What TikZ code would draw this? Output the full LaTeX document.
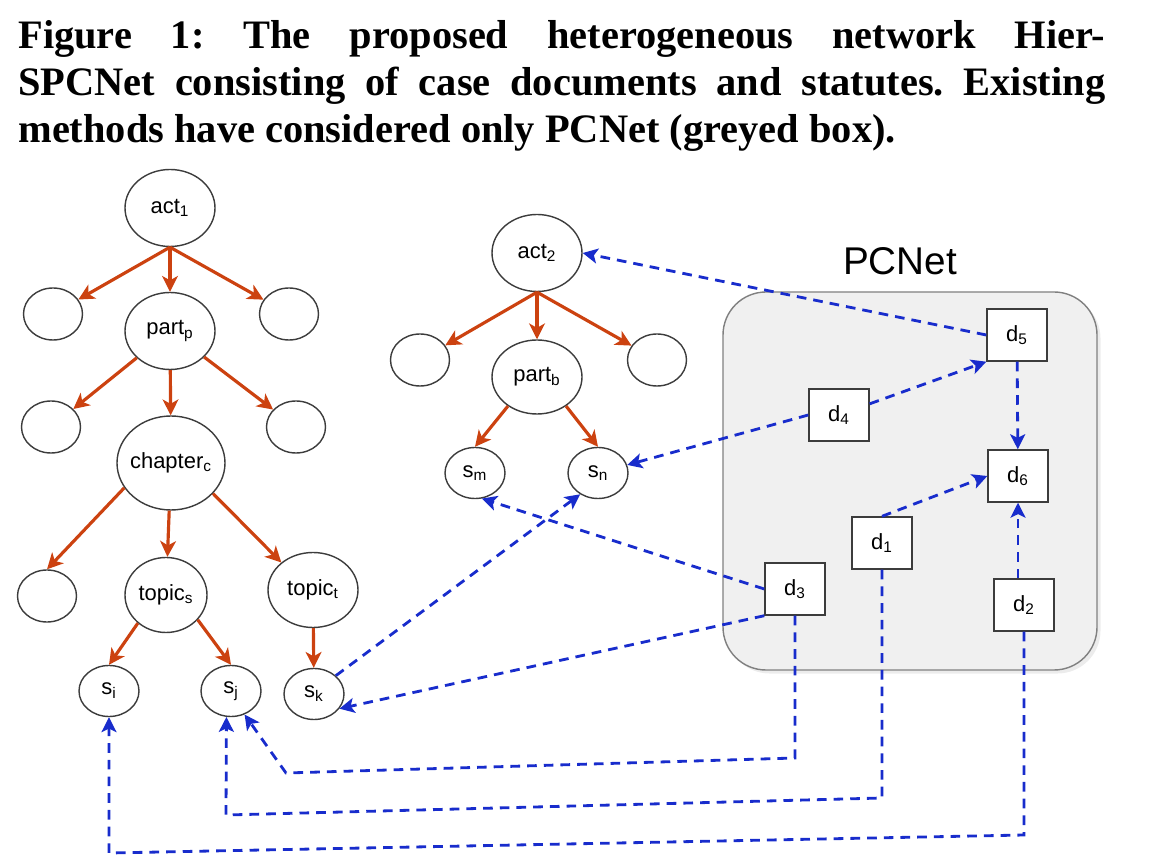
\documentclass[tikz,border=0pt]{standalone}
\usepackage{fontspec}
\setmainfont{Liberation Serif}
\setsansfont{Liberation Sans}
\usepackage{tikz}
\usetikzlibrary{shapes.geometric, arrows.meta, positioning, calc, shadows}
\definecolor{treeorange}{RGB}{204, 66, 16}
\definecolor{citeblue}{RGB}{24, 44, 204}
\definecolor{netgrey}{RGB}{240, 240, 240}
\definecolor{rimgrey}{RGB}{60, 60, 60}
\frenchspacing

\begin{document}
\begin{tikzpicture}[
    stat/.style={ellipse, draw=rimgrey, line width=0.8pt, fill=white,
        inner sep=0pt, font=\sffamily\fontsize{12.5}{14}\selectfont},
    big/.style={stat, minimum width=1.8cm, minimum height=1.54cm},
    blank/.style={stat, minimum width=1.18cm, minimum height=1.04cm},
    leaf/.style={stat, minimum width=1.2cm, minimum height=1.02cm},
    doc/.style={rectangle, draw=rimgrey, line width=0.8pt, fill=white,
        minimum width=1.2cm, minimum height=1.04cm,
        font=\sffamily\fontsize{12.5}{14}\selectfont},
    treearrow/.style={treeorange, line width=1.8pt,
        -{Stealth[length=9pt, width=9pt, inset=2.5pt]}},
    citearrow/.style={citeblue, line width=1.6pt, dash pattern=on 5.5pt off 4pt,
        -{Stealth[length=8.5pt, width=8.5pt, inset=2pt]}}
]
    \useasboundingbox (0,0) rectangle (23.3,17.32);

    % Caption
    \node[anchor=north west, inner sep=0pt, text width=21.74cm, align=justify,
          font=\fontsize{23}{26.8}\selectfont\bfseries] (caption) at (0.36,16.92)
        {Figure 1: The proposed heterogeneous network Hier-\linebreak
         SPCNet consisting of case documents and statutes. Existing\linebreak
         methods have considered only PCNet (greyed box).};

    % Greyed box
    \node[rectangle, draw=gray, line width=0.8pt, fill=netgrey,
          rounded corners=0.86cm, minimum width=7.48cm, minimum height=7.56cm,
          drop shadow={opacity=0.15, shadow xshift=2pt, shadow yshift=-2pt}]
        (pcbox) at (18.2,7.70) {};
    \node[anchor=base, font=\sffamily\fontsize{22}{24}\selectfont]
        (pclabel) at (18.0,11.82) {PCNet};

    % Statute hierarchy of act 1
    \node[big] (act1) at (3.40,13.16) {act\textsubscript{1}};
    \node[blank] (a1l) at (1.06,11.04) {};
    \node[big] (partp) at (3.40,10.70) {part\textsubscript{p}};
    \node[blank] (a1r) at (5.78,11.04) {};
    \node[blank] (p1l) at (1.02,8.78) {};
    \node[stat, minimum width=2.16cm, minimum height=1.88cm, inner xsep=-3pt]
        (chap) at (3.42,8.06) {chapter\textsubscript{c}};
    \node[blank] (p1r) at (5.92,8.78) {};
    \node[blank] (c1l) at (0.94,5.40) {};
    \node[stat, minimum width=1.64cm, minimum height=1.5cm] (tops) at (3.32,5.42)
        {topic\textsubscript{s}};
    \node[stat, minimum width=1.8cm, minimum height=1.5cm] (topt) at (6.26,5.52)
        {topic\textsubscript{t}};
    \node[leaf] (si) at (2.18,3.50) {s\textsubscript{i}};
    \node[leaf] (sj) at (4.62,3.50) {s\textsubscript{j}};
    \node[leaf] (sk) at (6.28,3.44) {s\textsubscript{k}};

    % Statute hierarchy of act 2
    \node[big] (act2) at (10.74,12.26) {act\textsubscript{2}};
    \node[blank] (a2l) at (8.40,10.12) {};
    \node[big, minimum height=1.48cm] (partb) at (10.74,9.78) {part\textsubscript{b}};
    \node[blank] (a2r) at (13.14,10.12) {};
    \node[leaf] (sm) at (9.50,7.86) {s\textsubscript{m}};
    \node[leaf] (sn) at (11.96,7.86) {s\textsubscript{n}};

    % Case documents
    \node[doc] (d5) at (20.34,10.62) {d\textsubscript{5}};
    \node[doc] (d4) at (16.78,9.02) {d\textsubscript{4}};
    \node[doc] (d6) at (20.36,7.80) {d\textsubscript{6}};
    \node[doc] (d1) at (17.64,6.46) {d\textsubscript{1}};
    \node[doc] (d3) at (15.90,5.54) {d\textsubscript{3}};
    \node[doc] (d2) at (20.48,5.22) {d\textsubscript{2}};

    % Bends of the long citation routes
    \coordinate (b3) at (15.90,2.16);
    \coordinate (c3) at (5.72,1.86);
    \coordinate (b1) at (17.64,1.36);
    \coordinate (c1) at (4.52,1.02);
    \coordinate (b2) at (20.48,0.62);
    \coordinate (c2) at (2.18,0.26);

    % Hierarchy edges
    \draw[treearrow] (act1.south) -- (a1l);
    \draw[treearrow] (act1.south) -- (partp);
    \draw[treearrow] (act1.south) -- (a1r);
    \draw[treearrow] (partp) -- (p1l);
    \draw[treearrow] (partp) -- (chap);
    \draw[treearrow] (partp) -- (p1r);
    \draw[treearrow] (chap.208) -- (c1l.north);
    \draw[treearrow] (chap) -- (tops);
    \draw[treearrow] (chap.324) -- (topt.139);
    \draw[treearrow] (tops.225) -- (si.north);
    \draw[treearrow] (tops.-38) -- (sj.north);
    \draw[treearrow] (topt) -- (sk);
    \draw[treearrow] (act2.south) -- (a2l);
    \draw[treearrow] (act2.south) -- (partb);
    \draw[treearrow] (act2.south) -- (a2r);
    \draw[treearrow] (partb.225) -- (sm.north);
    \draw[treearrow] (partb.-45) -- (sn.north);

    % Citation edges
    \draw[citearrow] (d5.west) -- (act2.east);
    \draw[citearrow] (d4.20) -- (d5.south west);
    \draw[citearrow] (d4.west) -- (sn);
    \draw[citearrow] (d5) -- (d6);
    \draw[citearrow] (d1.north) -- (d6.west);
    \draw[citearrow] (d2.north -| d6) -- (d6);
    \draw[citearrow] (d3.west) -- (sm.-75);
    \draw[citearrow] (d3.south west) -- (sk.-30);
    \draw[citearrow] (sk.40) -- (sn.230);
    \draw[citearrow] (d3.south) -- (b3) -- (c3) -- (sj.-60);
    \draw[citearrow] (d1.south) -- (b1) -- (c1) -- (sj.260);
    \draw[citearrow] (d2.south) -- (b2) -- (c2) -- (si.south);
\end{tikzpicture}
\end{document}
